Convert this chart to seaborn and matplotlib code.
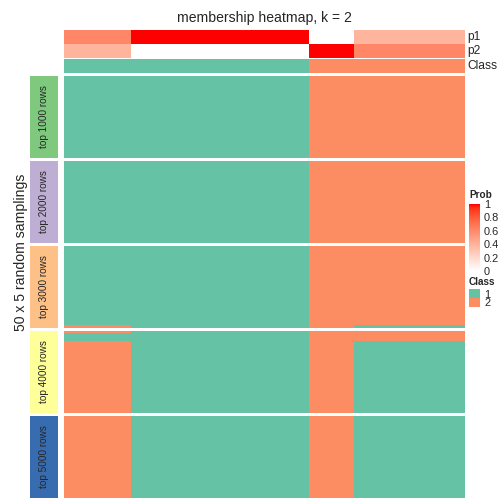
import numpy as np
import pandas as pd
import seaborn as sns
import matplotlib.pyplot as plt
from matplotlib.colors import ListedColormap, LinearSegmentedColormap, Normalize
from matplotlib.cm import ScalarMappable

sns.set_style("white")
plt.rcParams["font.family"] = ["Liberation Sans", "DejaVu Sans"]

# columns come in 4 blocks (3, 8, 2, 5 samples)
col_group_sizes = [3, 8, 2, 5]
p1 = [0.612, 1.0, 0.0, 0.384]
p2 = [0.388, 0.0, 1.0, 0.616]
col_class = [1, 1, 2, 2]

# class patterns across the 4 column blocks
pat_a = [1, 1, 2, 2]
pat_b = [2, 1, 2, 1]
pat_c = [2, 1, 2, 2]

slice_names = ["top 1000 rows", "top 2000 rows", "top 3000 rows", "top 4000 rows", "top 5000 rows"]
slice_colors = ["#7FC97F", "#BEAED4", "#FDC086", "#FFFF99", "#386CB0"]
# (pattern, number of sampling rows) for each slice
slice_runs = [
    [(pat_a, 50)],
    [(pat_a, 50)],
    [(pat_a, 48), (pat_b, 2)],
    [(pat_c, 1), (pat_a, 5), (pat_b, 44)],
    [(pat_b, 50)],
]
class_colors = ["#66C2A5", "#FC8D62"]
prob_ticks = [0, 0.2, 0.4, 0.6, 0.8, 1]

#%% white -> red ramp interpolated in Lab like colorRamp2
M = np.array([[0.4124, 0.3576, 0.1805], [0.2126, 0.7152, 0.0722], [0.0193, 0.1192, 0.9505]])
WP = np.array([0.95047, 1.0, 1.08883])

def to_lab(rgb):
    c = np.asarray(rgb, float)
    lin = np.where(c <= 0.04045, c / 12.92, ((c + 0.055) / 1.055) ** 2.4)
    xyz = M @ lin / WP
    f = np.where(xyz > 0.008856, np.cbrt(xyz), 7.787 * xyz + 16 / 116)
    return np.array([116 * f[1] - 16, 500 * (f[0] - f[1]), 200 * (f[1] - f[2])])

def from_lab(lab):
    L, a, b = lab
    fy = (L + 16) / 116
    f = np.array([fy + a / 500, fy, fy - b / 200])
    xyz = np.where(f ** 3 > 0.008856, f ** 3, (f - 16 / 116) / 7.787) * WP
    lin = np.clip(np.linalg.inv(M) @ xyz, 0, 1)
    return np.clip(np.where(lin <= 0.0031308, 12.92 * lin, 1.055 * lin ** (1 / 2.4) - 0.055), 0, 1)

lab_w, lab_r = to_lab([1, 1, 1]), to_lab([1, 0, 0])
stops = np.linspace(0, 1, 21)
prob_cmap = LinearSegmentedColormap.from_list(
    "prob", [(s, from_lab(lab_w + s * (lab_r - lab_w))) for s in stops])
class_cmap = ListedColormap(class_colors)

#%%
W = H = 504
fig = plt.figure(figsize=(7, 7), dpi=72)

def px_ax(x0, y0, x1, y1):
    return fig.add_axes([x0 / W, 1 - y1 / H, (x1 - x0) / W, (y1 - y0) / H])

def expand(vals):
    return np.repeat(vals, col_group_sizes)

hx0, hx1 = 64, 465

ax = px_ax(hx0, 30, hx1, 58)
prob_df = pd.DataFrame([expand(p1), expand(p2)], index=["p1", "p2"])
sns.heatmap(prob_df, ax=ax, cmap=prob_cmap, vmin=0, vmax=1, cbar=False,
            xticklabels=False, yticklabels=False)
ax = px_ax(hx0, 59, hx1, 73)
sns.heatmap(pd.DataFrame([expand(col_class)]), ax=ax, cmap=class_cmap, vmin=0.5, vmax=2.5,
            cbar=False, xticklabels=False, yticklabels=False)
for name, y in [("p1", 37), ("p2", 51), ("Class", 66)]:
    fig.text(467 / W, 1 - y / H, name, fontsize=12, va="center", ha="left")

fig.text((hx0 + hx1) / 2 / W, 1 - 18 / H, "membership heatmap, k = 2", fontsize=14,
         ha="center", va="center")

for i, (runs, name, color) in enumerate(zip(slice_runs, slice_names, slice_colors)):
    y0 = 76 + i * 85
    rows = [expand(pat) for pat, n in runs for _ in range(n)]
    ax = px_ax(hx0, y0, hx1, y0 + 82)
    sns.heatmap(pd.DataFrame(rows), ax=ax, cmap=class_cmap, vmin=0.5, vmax=2.5, cbar=False,
                xticklabels=False, yticklabels=False)
    tax = px_ax(30, y0, 58, y0 + 82)
    tax.set_facecolor(color)
    tax.set_xticks([])
    tax.set_yticks([])
    for s in tax.spines.values():
        s.set_visible(False)
    tax.text(0.5, 0.5, name, rotation=90, fontsize=10, ha="center", va="center",
             transform=tax.transAxes)

fig.text(21 / W, 1 - 252 / H, "50 x 5 random samplings", fontsize=14, rotation=90,
         ha="center", va="center")

# legends
fig.text(469 / W, 1 - 195 / H, "Prob", fontsize=10, fontweight="bold", va="center")
cax = px_ax(469, 204, 480, 271)
cb = fig.colorbar(ScalarMappable(norm=Normalize(0, 1), cmap=prob_cmap), cax=cax, ticks=prob_ticks)
cb.set_ticklabels([f"{t:g}" for t in prob_ticks])
cb.outline.set_visible(False)
cax.tick_params(direction="in", color="white", length=2, labelsize=11, pad=4)

fig.text(469 / W, 1 - 282 / H, "Class", fontsize=10, fontweight="bold", va="center")
lax = px_ax(469, 289, 480, 307)
sns.heatmap(pd.DataFrame([[1], [2]]), ax=lax, cmap=class_cmap, vmin=0.5, vmax=2.5, cbar=False,
            xticklabels=False, yticklabels=["1", "2"])
lax.yaxis.tick_right()
lax.tick_params(axis="y", length=0, labelsize=11, pad=4, rotation=0)

fig.savefig("out.png", dpi=72)
